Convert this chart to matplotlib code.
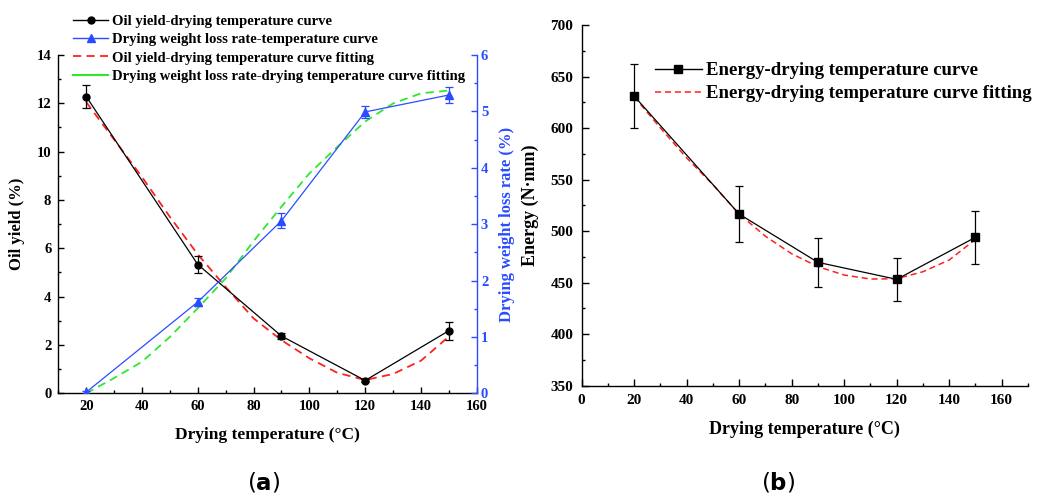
import matplotlib
matplotlib.use("Agg")
import matplotlib.pyplot as plt
from matplotlib.lines import Line2D
from matplotlib.ticker import MultipleLocator

plt.rcParams['font.family'] = ['Liberation Serif', 'DejaVu Serif']
plt.rcParams['font.weight'] = 'bold'
plt.rcParams['axes.labelweight'] = 'bold'

# panel (a) measurements
temp = [20, 60, 90, 120, 150]
oil_yield = [12.28, 5.33, 2.37, 0.53, 2.59]
oil_err = [0.48, 0.36, 0.14, 0.08, 0.38]
weight_loss = [0.02, 1.62, 3.06, 4.99, 5.29]
weight_err = [0.03, 0.07, 0.13, 0.11, 0.14]

# fitted curves
fit_temp = [20, 30, 40, 50, 60, 70, 80, 90, 100, 110, 120, 130, 140, 150]
oil_fit = [12.05, 10.5, 8.95, 7.3, 5.75, 4.4, 3.1, 2.2, 1.45, 0.85, 0.55, 0.8, 1.35, 2.35]
weight_fit = [0.0, 0.27, 0.56, 1.0, 1.51, 2.04, 2.7, 3.31, 3.9, 4.37, 4.82, 5.14, 5.32, 5.37]

# panel (b)
energy = [631, 516.5, 469.7, 453.2, 494]
energy_err = [31, 27.5, 23.6, 20.7, 25.8]
energy_fit = [630.4, 600, 571, 545, 516.5, 495, 478, 465.5, 457.4, 453.5, 453.8, 460.6, 472, 492]

blue = '#2a4cff'
green = '#2ee82e'
red = '#ff2020'

fig = plt.figure(figsize=(10.43, 4.98), dpi=100)

# ---------- (a) ----------
ax = fig.add_axes([0.0559, 0.2102, 0.4012, 0.6794])
ax2 = ax.twinx()

ax.plot(fit_temp, oil_fit, color=red, lw=1.3, dashes=(4.5, 3))
ax.errorbar(temp, oil_yield, yerr=oil_err, color='black', lw=0.9, marker='o', ms=5,
            capsize=3.2, elinewidth=0.9, capthick=0.9)
ax2.plot(fit_temp, weight_fit, color=green, lw=1.3, dashes=(4.5, 3))
ax2.errorbar(temp, weight_loss, yerr=weight_err, color=blue, lw=0.9, marker='^', ms=6,
             capsize=3.2, elinewidth=0.9, capthick=0.9)

ax.set_xlim(10, 160)
ax.set_ylim(0, 14)
ax2.set_ylim(0, 6)
ax.set_xticks([20, 40, 60, 80, 100, 120, 140, 160])
ax.xaxis.set_minor_locator(MultipleLocator(10))
ax.yaxis.set_major_locator(MultipleLocator(2))
ax.yaxis.set_minor_locator(MultipleLocator(1))
ax2.yaxis.set_major_locator(MultipleLocator(1))
ax2.yaxis.set_minor_locator(MultipleLocator(0.5))

for a in (ax, ax2):
    a.spines['top'].set_visible(False)
    for s in a.spines.values():
        s.set_linewidth(1.0)
ax.spines['right'].set_visible(False)
ax2.spines['left'].set_visible(False)
ax2.spines['bottom'].set_visible(False)
ax2.spines['right'].set_color(blue)

ax.tick_params(which='both', direction='in', width=1, labelsize=10.5, pad=5)
ax.tick_params(which='major', length=4)
ax.tick_params(which='minor', length=2.5)
ax2.tick_params(which='both', direction='in', width=1, labelsize=10.5, pad=3,
                colors=blue)
ax2.tick_params(which='major', length=4)
ax2.tick_params(which='minor', length=2.5)

ax.set_xlabel('Drying temperature (°C)', fontsize=12.5, labelpad=10)
ax.set_ylabel('Oil yield (%)', fontsize=12, labelpad=8)
ax2.set_ylabel('Drying weight loss rate (%)', fontsize=12, color=blue, labelpad=8)

handles = [
    Line2D([], [], color='black', lw=1.0, marker='o', ms=5),
    Line2D([], [], color=blue, lw=1.0, marker='^', ms=6),
    Line2D([], [], color=red, lw=1.3, dashes=(4.5, 3)),
    Line2D([], [], color=green, lw=1.5),
]
labels = ['Oil yield-drying temperature curve',
          'Drying weight loss rate-temperature curve',
          'Oil yield-drying temperature curve fitting',
          'Drying weight loss rate-drying temperature curve fitting']
ax2.legend(handles, labels, loc='upper left', bbox_to_anchor=(73 / 1043, 1 - 15 / 498),
           bbox_transform=fig.transFigure, frameon=False, fontsize=10.5,
           borderpad=0, borderaxespad=0, handlelength=2.4, handletextpad=0.25,
           labelspacing=0.34)

fig.text(264 / 1043, 1 - 482 / 498, r'($\mathbf{a}$)', fontfamily='DejaVu Sans',
         fontsize=16.5, ha='center', va='center', fontweight='normal')

# ---------- (b) ----------
bx = fig.add_axes([0.5577, 0.2255, 0.4279, 0.7243])
bx.plot(fit_temp, energy_fit, color=red, lw=1.1, dashes=(4, 2.5))
bx.errorbar(temp, energy, yerr=energy_err, color='black', lw=0.9, marker='s', ms=6,
            capsize=3.2, elinewidth=0.9, capthick=0.9)

bx.set_xlim(0, 170)
bx.set_ylim(350, 700)
bx.set_xticks([0, 20, 40, 60, 80, 100, 120, 140, 160])
bx.xaxis.set_minor_locator(MultipleLocator(10))
bx.yaxis.set_major_locator(MultipleLocator(50))
bx.yaxis.set_minor_locator(MultipleLocator(25))
bx.spines['top'].set_visible(False)
bx.spines['right'].set_visible(False)
for s in bx.spines.values():
    s.set_linewidth(1.0)
bx.tick_params(which='both', direction='in', width=1, labelsize=11, pad=6)
bx.tick_params(which='major', length=5)
bx.tick_params(which='minor', length=2.5)

bx.set_xlabel('Drying temperature (°C)', fontsize=13, labelpad=10)
bx.set_ylabel('Energy (N·mm)', fontsize=13, labelpad=8)

b_handles = [
    Line2D([], [], color='black', lw=1.0, marker='s', ms=6),
    Line2D([], [], color=red, lw=1.1, dashes=(4, 2.5)),
]
b_labels = ['Energy-drying temperature curve', 'Energy-drying temperature curve fitting']
bx.legend(b_handles, b_labels, loc='upper left', bbox_to_anchor=(655 / 1043, 1 - 62 / 498),
          bbox_transform=fig.transFigure, frameon=False, fontsize=13.5,
          borderpad=0, borderaxespad=0, handlelength=2.5, handletextpad=0.2,
          labelspacing=0.32)

fig.text(778 / 1043, 1 - 482 / 498, r'($\mathbf{b}$)', fontfamily='DejaVu Sans',
         fontsize=16.5, ha='center', va='center', fontweight='normal')

fig.savefig('out.png', dpi=100, facecolor='white')
